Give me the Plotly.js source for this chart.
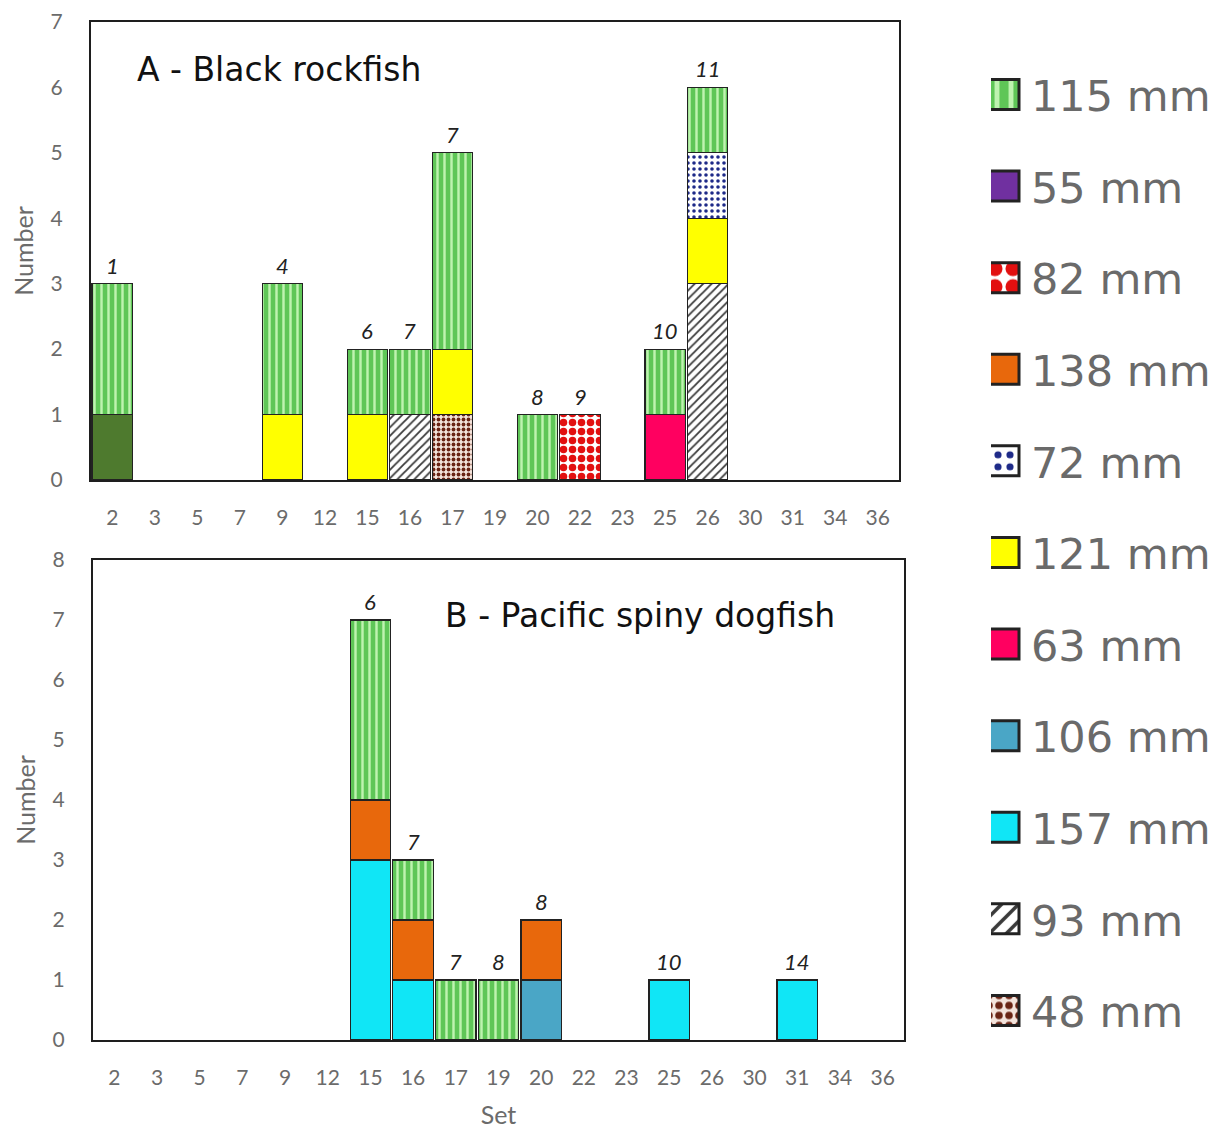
<!DOCTYPE html>
<html>
<head>
<meta charset="utf-8">
<script src="https://cdn.plot.ly/plotly-3.0.1.min.js"></script>
<style>html,body{margin:0;padding:0;background:#fff;}</style>
</head>
<body>
<div id="chart" style="width:1227px;height:1139px;"></div>
<script>
// ---- data ----
const sets = ["2","3","5","7","9","12","15","16","17","19","20","22","23","25","26","30","31","34","36"];

// Panel A - Black rockfish (counts per set)
const A_other  = [1,0,0,0,0,0,0,0,0,0,0,0,0,0,0,0,0,0,0];
const A_157 = [0,0,0,0,0,0,0,0,0,0,0,0,0,0,0,0,0,0,0];
const A_106 = [0,0,0,0,0,0,0,0,0,0,0,0,0,0,0,0,0,0,0];
const A_93  = [0,0,0,0,0,0,0,1,0,0,0,0,0,0,3,0,0,0,0];
const A_48  = [0,0,0,0,0,0,0,0,1,0,0,0,0,0,0,0,0,0,0];
const A_63  = [0,0,0,0,0,0,0,0,0,0,0,0,0,1,0,0,0,0,0];
const A_82  = [0,0,0,0,0,0,0,0,0,0,0,1,0,0,0,0,0,0,0];
const A_121 = [0,0,0,0,1,0,1,0,1,0,0,0,0,0,1,0,0,0,0];
const A_138 = [0,0,0,0,0,0,0,0,0,0,0,0,0,0,0,0,0,0,0];
const A_72  = [0,0,0,0,0,0,0,0,0,0,0,0,0,0,1,0,0,0,0];
const A_55  = [0,0,0,0,0,0,0,0,0,0,0,0,0,0,0,0,0,0,0];
const A_115 = [2,0,0,0,2,0,1,1,3,0,1,0,0,1,1,0,0,0,0];
const A_labels = ["1","","","","4","","6","7","7","","8","9","","10","11","","","",""];

// Panel B - Pacific spiny dogfish
const B_157 = [0,0,0,0,0,0,3,1,0,0,0,0,0,1,0,0,1,0,0];
const B_106 = [0,0,0,0,0,0,0,0,0,0,1,0,0,0,0,0,0,0,0];
const B_138 = [0,0,0,0,0,0,1,1,0,0,1,0,0,0,0,0,0,0,0];
const B_115 = [0,0,0,0,0,0,3,1,1,1,0,0,0,0,0,0,0,0,0];
const B_labels = ["","","","","","","6","7","7","8","8","","","10","","","14","",""];

const legendOrder = ["115 mm","55 mm","82 mm","138 mm","72 mm","121 mm","63 mm","106 mm","157 mm","93 mm","48 mm"];

// ---- styles ----
const styles = {
  "other":  {color:"#4e7a2e"},
  "157 mm": {color:"#10e6f6"},
  "106 mm": {color:"#4aa6c6"},
  "93 mm":  {color:"#ffffff", pattern:{shape:"/", fgcolor:"#3a3a3a", bgcolor:"#ffffff", size:6, solidity:0.3}},
  "48 mm":  {color:"#ffffff", pattern:{shape:".", fgcolor:"#6a2414", bgcolor:"#f4e4dc", size:5, solidity:0.45}},
  "63 mm":  {color:"#ff0060"},
  "82 mm":  {color:"#ffffff", pattern:{shape:".", fgcolor:"#e21010", bgcolor:"#ffffff", size:9, solidity:0.55}},
  "121 mm": {color:"#ffff00"},
  "138 mm": {color:"#e8680c"},
  "72 mm":  {color:"#ffffff", pattern:{shape:".", fgcolor:"#1e2a88", bgcolor:"#ffffff", size:6, solidity:0.28}},
  "55 mm":  {color:"#7030a0"},
  "115 mm": {color:"#66cc5c", pattern:{shape:"|", fgcolor:"#bff3b0", bgcolor:"#5fc657", size:7, solidity:0.35}}
};

const nz = a => a.map(v => v === 0 ? null : v);

function mk(name, vals, xa, ya, showleg) {
  const st = styles[name];
  const marker = {color: st.color, line:{color:"#222222", width:1.2}};
  if (st.pattern) marker.pattern = Object.assign({fillmode:"replace"}, st.pattern);
  const rank = legendOrder.indexOf(name);
  return {
    type:"bar", x: sets, y: nz(vals), name: name, xaxis: xa, yaxis: ya,
    marker: marker, showlegend: showleg && rank >= 0,
    legendgroup: name, legendrank: rank >= 0 ? (rank + 1) * 10 : 1000,
    hoverinfo: "x+y+name"
  };
}

const stackA = [["other",A_other],["157 mm",A_157],["106 mm",A_106],["93 mm",A_93],["48 mm",A_48],["63 mm",A_63],["82 mm",A_82],["121 mm",A_121],["138 mm",A_138],["72 mm",A_72],["55 mm",A_55],["115 mm",A_115]];
const stackB = [["157 mm",B_157],["106 mm",B_106],["138 mm",B_138],["115 mm",B_115]];

const traces = [];
stackA.forEach(([n,v]) => traces.push(mk(n, v, "x", "y", true)));
stackB.forEach(([n,v]) => traces.push(mk(n, v, "x2", "y2", false)));

function totals(stack) {
  return sets.map((s,i) => stack.reduce((acc,[n,v]) => acc + v[i], 0));
}
const totA = totals(stackA), totB = totals(stackB);

const annotations = [];
const labFont = {family:"Lato, 'Open Sans', sans-serif", size:22, color:"#222"};
sets.forEach((s,i) => {
  if (A_labels[i]) annotations.push({x:i, y:totA[i], xref:"x", yref:"y", text:"<i>"+A_labels[i]+"</i>", showarrow:false, yanchor:"bottom", yshift:3, font:labFont});
  if (B_labels[i]) annotations.push({x:i, y:totB[i], xref:"x2", yref:"y2", text:"<i>"+B_labels[i]+"</i>", showarrow:false, yanchor:"bottom", yshift:3, font:labFont});
});
const titleFont = {family:"'DejaVu Sans', sans-serif", size:33, color:"#111"};
annotations.push({xref:"paper", yref:"paper", x:(135-91)/814, y:(1040-70)/1018, xanchor:"left", yanchor:"middle", text:"A - Black rockfish", showarrow:false, font:titleFont});
annotations.push({xref:"paper", yref:"paper", x:(443-91)/814, y:(1040-615)/1018, xanchor:"left", yanchor:"middle", text:"B - Pacific spiny dogfish", showarrow:false, font:titleFont});

const tickFont = {family:"Lato, 'Open Sans', sans-serif", size:21, color:"#6b6b6b"};
const axTitleFont = {family:"Lato, sans-serif", size:25, color:"#6b6b6b"};
const axCommon = {showline:true, mirror:true, linecolor:"#1e1e1e", linewidth:2, showgrid:false, zeroline:false, tickfont:tickFont,
                  ticks:"outside", ticklen:18, tickcolor:"rgba(0,0,0,0)"};

const layout = {
  width:1227, height:1139,
  margin:{l:91, r:322, t:22, b:99},
  paper_bgcolor:"#ffffff", plot_bgcolor:"#ffffff",
  barmode:"stack", bargap:0.05,
  font:{family:"Lato, sans-serif"},
  xaxis: Object.assign({}, axCommon, {domain:[0, (900-91)/814], anchor:"y", type:"category", range:[-0.5, sets.length-0.5], tickangle:0}),
  yaxis: Object.assign({}, axCommon, {domain:[(1040-480)/1018, 1], anchor:"x", range:[0,7], dtick:1, ticklen:22,
           title:{text:"Number", font:axTitleFont, standoff:10}}),
  xaxis2: Object.assign({}, axCommon, {domain:[(93-91)/814, 1], anchor:"y2", type:"category", range:[-0.5, sets.length-0.5], tickangle:0,
           title:{text:"Set", font:axTitleFont, standoff:18}}),
  yaxis2: Object.assign({}, axCommon, {domain:[0, (1040-560)/1018], anchor:"x2", range:[0,8], dtick:1, ticklen:22,
           title:{text:"Number", font:axTitleFont, standoff:10}}),
  legend:{x:(991-91)/814, xanchor:"left", y:(1040-60)/1018, yanchor:"top", traceorder:"grouped", tracegroupgap:32.7,
          font:{family:"'DejaVu Sans', sans-serif", size:43, color:"#6a6a6a"}, bgcolor:"rgba(0,0,0,0)"},
  annotations: annotations
};

Plotly.newPlot("chart", traces, layout, {displayModeBar:false, staticPlot:true}).then(gd => {
  gd.querySelectorAll(".legend g.traces").forEach(g => {
    const txt = g.querySelector("text.legendtext");
    const tx = txt ? parseFloat(txt.getAttribute("x")) || 40 : 40;
    g.querySelectorAll(".legendpoints path").forEach(p => {
      p.setAttribute("transform", "translate(" + (tx - 27) + ",0) scale(2.5)");
    });
  });
});
</script>
</body>
</html>
